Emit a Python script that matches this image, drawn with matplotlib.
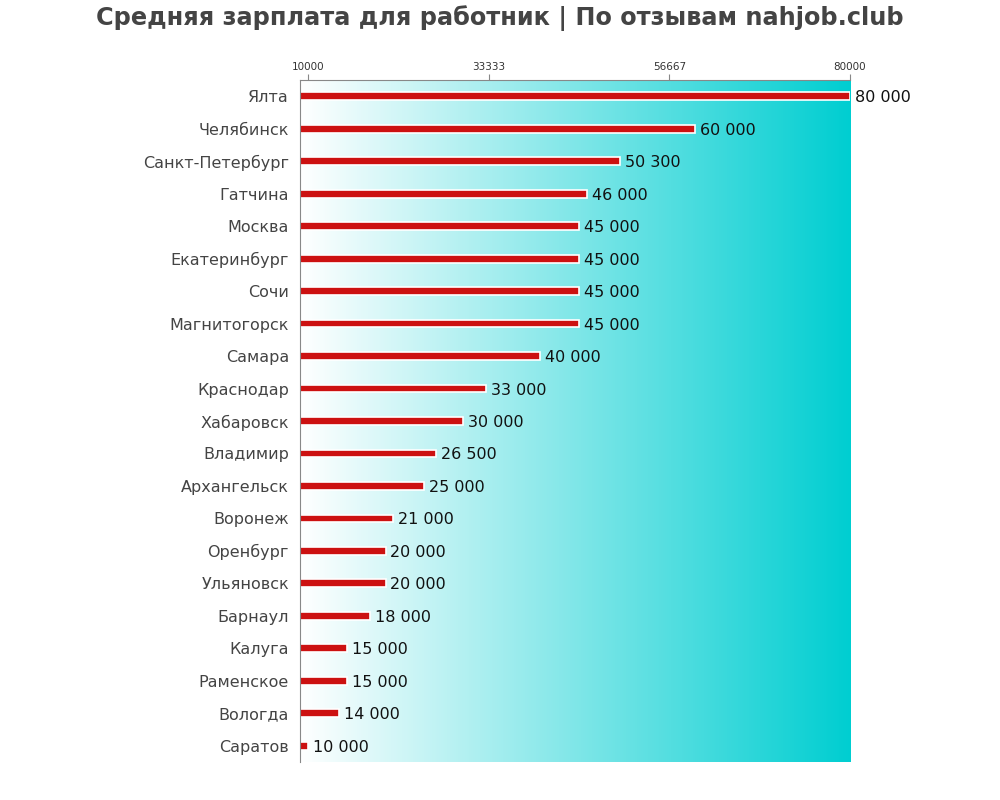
import matplotlib
matplotlib.use("Agg")
import matplotlib.pyplot as plt
import numpy as np
from matplotlib.colors import LinearSegmentedColormap

# данные с картинки
cities = ["Ялта", "Челябинск", "Санкт-Петербург", "Гатчина", "Москва", "Екатеринбург",
          "Сочи", "Магнитогорск", "Самара", "Краснодар", "Хабаровск", "Владимир",
          "Архангельск", "Воронеж", "Оренбург", "Ульяновск", "Барнаул", "Калуга",
          "Раменское", "Вологда", "Саратов"]
salaries = [80000, 60000, 50300, 46000, 45000, 45000, 45000, 45000, 40000, 33000,
            30000, 26500, 25000, 21000, 20000, 20000, 18000, 15000, 15000, 14000, 10000]
top_ticks = [10000, 33333, 56667, 80000]

x_min = 8930
x_max = 80000

fig = plt.figure(figsize=(10, 8), dpi=100)
ax = fig.add_axes([0.3, 0.0475, 0.55, 0.8525])

n = len(cities)
y = np.arange(n)

# фон-градиент
cmap = LinearSegmentedColormap.from_list("bg", ["#ffffff", "#00ced1"])
grad = np.linspace(0, 1, 256).reshape(1, -1)
ax.imshow(grad, cmap=cmap, aspect="auto", extent=[x_min, x_max, n - 0.5, -0.5], zorder=0)

ax.barh(y, np.array(salaries) - x_min, left=x_min, height=0.24, color="#cc1111",
        edgecolor="white", linewidth=1.2, zorder=2)

for i, v in enumerate(salaries):
    txt = "{:,}".format(v).replace(",", " ")
    ax.text(v + 600, i, txt, va="center_baseline", ha="left", fontsize=11.5, color="#111111", zorder=3)

ax.set_xlim(x_min, x_max)
ax.set_ylim(n - 0.5, -0.5)
ax.set_yticks(y)
ax.set_yticklabels(cities, fontsize=11.5, color="#444444", va="center_baseline")
ax.tick_params(axis="y", length=0, pad=8)

ax.xaxis.tick_top()
ax.set_xticks(top_ticks)
ax.set_xticklabels([str(t) for t in top_ticks], fontsize=7.5, color="#333333")
ax.tick_params(axis="x", length=4, color="#888888", pad=2)

for s in ["right", "bottom"]:
    ax.spines[s].set_visible(False)
for s in ["left", "top"]:
    ax.spines[s].set_color("#888888")

fig.text(0.5, 0.978, "Средняя зарплата для работник | По отзывам nahjob.club", ha="center",
         va="center", fontsize=17.3, fontweight="bold", color="#444444")

plt.savefig("out.png")
